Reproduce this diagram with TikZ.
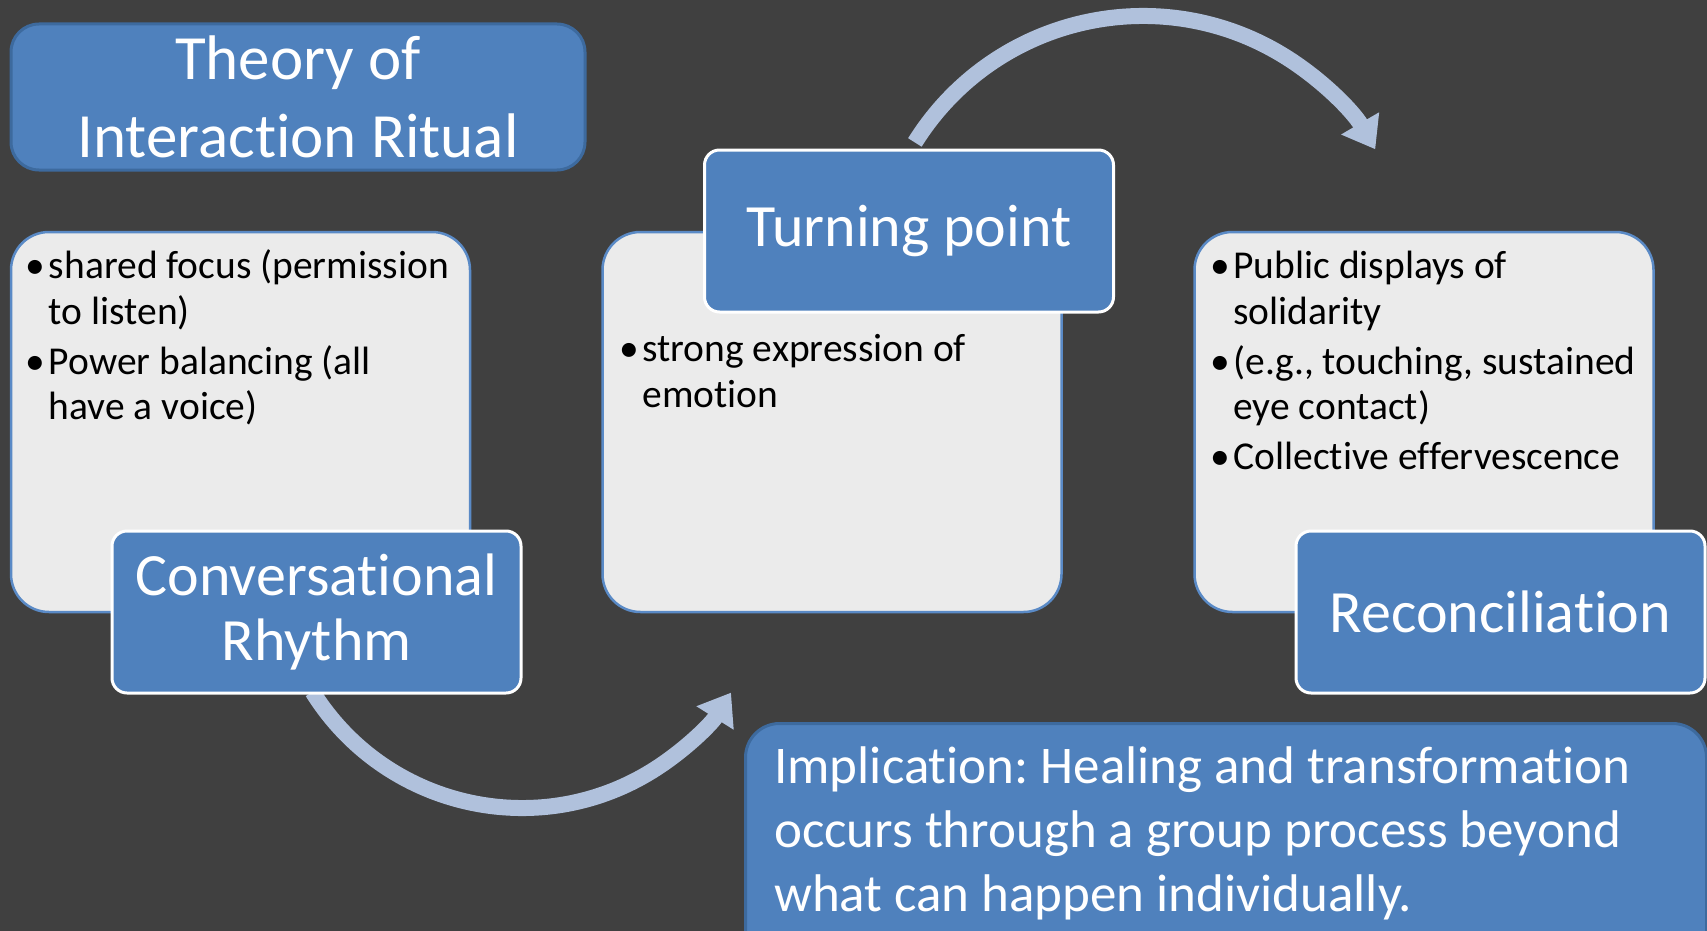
\documentclass[tikz,border=0pt]{standalone}
\usepackage{fontspec}
\setmainfont{Carlito}[Ligatures=NoCommon]
\frenchspacing
\usetikzlibrary{arrows.meta,calc}

\definecolor{bgdark}{HTML}{404040}
\definecolor{boxblue}{HTML}{4F81BD}
\definecolor{edgeblue}{HTML}{3D6A9E}
\definecolor{paneline}{HTML}{5A8AC6}
\definecolor{panefill}{HTML}{EBEBEB}
\definecolor{arcblue}{HTML}{B0C1DC}

\tikzset{
  pane/.style={draw=paneline, line width=2.5pt, fill=panefill, rounded corners=38pt,
    inner sep=0pt, minimum width=459pt, minimum height=380pt},
  stage/.style={draw=white, line width=3pt, fill=boxblue, rounded corners=15pt,
    inner sep=0pt, minimum width=409pt, minimum height=162pt, text=white,
    align=center, font=\fontsize{60}{65}\selectfont},
  banner/.style={draw=edgeblue, line width=3pt, fill=boxblue, text=white, inner sep=0pt},
  bullets/.style={anchor=base west, inner sep=0pt, text=black,
    font=\fontsize{39.5}{45.5}\selectfont},
  flow/.style={draw=arcblue, line width=16pt, -{Triangle[length=30pt,width=42pt]}},
}

% one bullet row and one continuation row of a list
\newcommand\bul{\makebox[23pt][l]{\textbullet}}
\newcommand\cont{\hspace*{23pt}}

\begin{document}
\begin{tikzpicture}[x=1pt,y=-1pt]
\useasboundingbox (0,0) rectangle (1707,931);
\clip (0,0) rectangle (1707,931);
\fill[bgdark] (0,0) rectangle (1707,931);

% curved arrows, drawn first so the boxes cover their tails
\coordinate (lowc) at (522,561);
\coordinate (highc) at (1143,285);
\draw[flow] ($(lowc)+(148:247)$) coordinate (lowstart)
  arc[start angle=148, end angle=32.2, radius=247] coordinate (lowend);
\draw[flow] ($(highc)+(212:269)$) coordinate (highstart)
  arc[start angle=212, end angle=329.7, radius=269] coordinate (highend);

% content panes
\node[pane] (lpane) at (240.5,422) {};
\node[pane] (mpane) at (832,422) {};
\node[pane] (rpane) at (1424,422) {};

% bullet lists
\node[bullets] (ltext) at ($(lpane.north west)+(16,48)$) {%
  \begin{tabular}[t]{@{}l@{}}
  \bul shared focus (permission\\
  \cont to listen)\\[4.5pt]
  \bul Power balancing (all\\
  \cont have a voice)
  \end{tabular}};
\node[bullets] (mtext) at ($(mpane.north west)+(18,131)$) {%
  \begin{tabular}[t]{@{}l@{}}
  \bul strong expression of\\
  \cont emotion
  \end{tabular}};
\node[bullets] (rtext) at ($(rpane.north west)+(17,48)$) {%
  \begin{tabular}[t]{@{}l@{}}
  \bul Public displays of\\
  \cont solidarity\\[4.5pt]
  \bul (e.g., touching, sustained\\
  \cont eye contact)\\[4.5pt]
  \bul Collective effervescence
  \end{tabular}};

% stage labels
\node[stage] (rhythm) at (316.5,612) {Conversational\\Rhythm};
\node[stage] (turning) at (909,231) {Turning point};
\node[stage] (recon) at (1500.5,612) {Reconciliation};

% heading
\node[banner, rounded corners=28pt, minimum width=574pt, minimum height=146pt,
  align=center, font=\fontsize{63}{78.5}\selectfont] (title) at (298,97)
  {Theory of\\Interaction Ritual};

% closing statement
\node[banner, rounded corners=34pt, minimum width=961pt, minimum height=250pt,
  anchor=north west] (impl) at (744,722) {};
\node[anchor=base west, inner sep=0pt, text=white,
  font=\fontsize{53}{64}\selectfont] (impltext) at ($(impl.north west)+(30,61)$) {%
  \begin{tabular}[t]{@{}l@{}}
  Implication: Healing and transformation\\
  occurs through a group process beyond\\
  what can happen individually.
  \end{tabular}};
\end{tikzpicture}
\end{document}
